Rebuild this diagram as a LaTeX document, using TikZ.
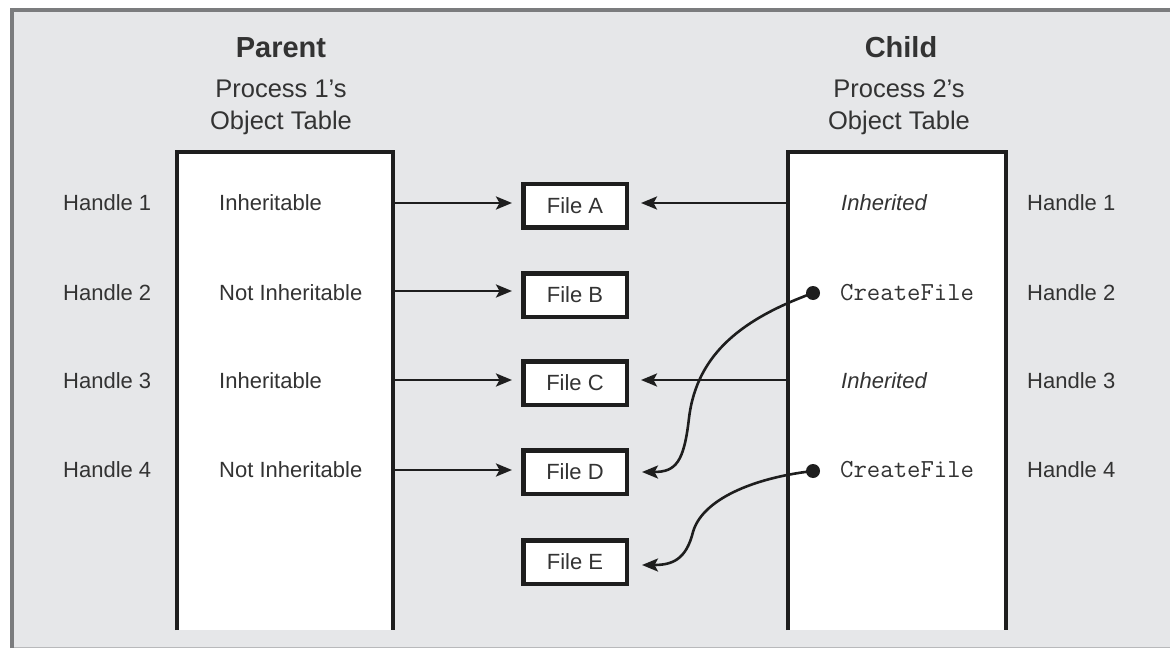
\documentclass[tikz,border=0pt]{standalone}
\usepackage{fontspec}
\setmainfont{Liberation Sans}
\usetikzlibrary{arrows.meta}
\definecolor{panel}{HTML}{E6E7E9}
\definecolor{frameline}{HTML}{7B7C7E}
\definecolor{framelow}{HTML}{B8B9BB}
\definecolor{ink}{HTML}{333333}
\definecolor{linecol}{HTML}{1E1E1E}
\begin{document}
\begin{tikzpicture}[x=1pt,y=-1pt,
  txt/.style={text=ink,inner sep=0pt,font=\fontsize{22}{24}\selectfont},
  title/.style={text=ink,inner sep=0pt,font=\fontsize{29}{32}\selectfont\bfseries},
  subtitle/.style={text=ink,inner sep=0pt,font=\fontsize{25.5}{28}\selectfont},
  code/.style={text=ink,inner sep=0pt,font=\fontsize{26}{28}\selectfont\ttfamily},
  tablebox/.style={fill=white,draw=none,minimum width=216pt,minimum height=478pt,inner sep=0pt},
  tableline/.style={draw=linecol,line width=3.5pt},
  filebox/.style={draw=linecol,fill=white,line width=4.5pt,minimum width=103.5pt,minimum height=43.5pt,inner sep=0pt,text=ink,font=\fontsize{22}{24}\selectfont},
  arr/.style={draw=linecol,line width=2.6pt,-{Stealth[length=16pt,width=13pt,inset=3.5pt]}},
  dot/.style={circle,fill=linecol,minimum size=14pt,inner sep=0pt}]
\useasboundingbox (0,0) rectangle (1170,650);
\fill[white] (0,0) rectangle (1170,650);
% panel with its frame
\fill[panel] (12,10) rectangle (1170,648);
\draw[framelow,line width=1.5pt] (12,647.5) -- (1170,647.5);
\draw[frameline,line width=4.5pt] (12,648) -- (12,10) -- (1170,10);

% object tables (open at the bottom)
\node[tablebox] (ptab) at (285,391) {};
\node[tablebox,minimum width=218pt] (ctab) at (897,391) {};
\draw[tableline] (ptab.south west) |- (ptab.north east) -- (ptab.south east);
\draw[tableline] (ctab.south west) |- (ctab.north east) -- (ctab.south east);

% headings
\node[title,anchor=base] (ptitle) at (281,58) {Parent};
\node[subtitle,anchor=base] (psub1) at (281,98) {Process 1's};
\node[subtitle,anchor=base] (psub2) at (281,130) {Object Table};
\node[title,anchor=base] (ctitle) at (901,58) {Child};
\node[subtitle,anchor=base] (csub1) at (899,98) {Process 2's};
\node[subtitle,anchor=base] (csub2) at (899,130) {Object Table};

% handle labels
\node[txt,anchor=base west] (lh1) at (63,210) {Handle 1};
\node[txt,anchor=base west] (lh2) at (63,300) {Handle 2};
\node[txt,anchor=base west] (lh3) at (63,388) {Handle 3};
\node[txt,anchor=base west] (lh4) at (63,477) {Handle 4};
\node[txt,anchor=base west] (rh1) at (1027,210) {Handle 1};
\node[txt,anchor=base west] (rh2) at (1027,300) {Handle 2};
\node[txt,anchor=base west] (rh3) at (1027,388) {Handle 3};
\node[txt,anchor=base west] (rh4) at (1027,477) {Handle 4};

% parent entries
\node[txt,anchor=base west] (p1) at (219,210) {Inheritable};
\node[txt,anchor=base west] (p2) at (219,300) {Not Inheritable};
\node[txt,anchor=base west] (p3) at (219,388) {Inheritable};
\node[txt,anchor=base west] (p4) at (219,477) {Not Inheritable};

% child entries
\node[txt,anchor=base west,font=\fontsize{22}{24}\selectfont\itshape] (c1) at (841,210) {Inherited};
\node[code,anchor=base west] (c2) at (840,300) {CreateFile};
\node[txt,anchor=base west,font=\fontsize{22}{24}\selectfont\itshape] (c3) at (841,388) {Inherited};
\node[code,anchor=base west] (c4) at (840,477) {CreateFile};
\node[dot] (d2) at (813,293) {};
\node[dot] (d4) at (813,471) {};

% file objects
\node[filebox] (fA) at (575,205.5) {File A};
\node[filebox] (fB) at (575,295) {File B};
\node[filebox] (fC) at (575,383) {File C};
\node[filebox] (fD) at (575,472) {File D};
\node[filebox] (fE) at (575,562) {File E};

% row heights of the handle arrows
\coordinate (r1) at (0,203);
\coordinate (r2) at (0,291);
\coordinate (r3) at (0,380);
\coordinate (r4) at (0,470);

% parent handles
\draw[arr,shorten >=9pt] (ptab.east |- r1) -- (fA.west |- r1);
\draw[arr,shorten >=9pt] (ptab.east |- r2) -- (fB.west |- r2);
\draw[arr,shorten >=9pt] (ptab.east |- r3) -- (fC.west |- r3);
\draw[arr,shorten >=9pt] (ptab.east |- r4) -- (fD.west |- r4);

% inherited child handles
\draw[arr,shorten >=12pt] (ctab.west |- r1) -- (fA.east |- r1);
\draw[arr,shorten >=12pt] (ctab.west |- r3) -- (fC.east |- r3);

% handles opened by CreateFile in the child
\draw[arr,shorten >=13pt] (d2.center) .. controls (745,318) and (697,352) .. (689,418)
  .. controls (684,462) and (676,472) .. (fD.east);
\draw[arr,shorten >=13pt] (d4.center) .. controls (752,478) and (702,500) .. (693,532)
  .. controls (686,560) and (672,565) .. (fE.east |- 0,565);
\end{tikzpicture}
\end{document}
